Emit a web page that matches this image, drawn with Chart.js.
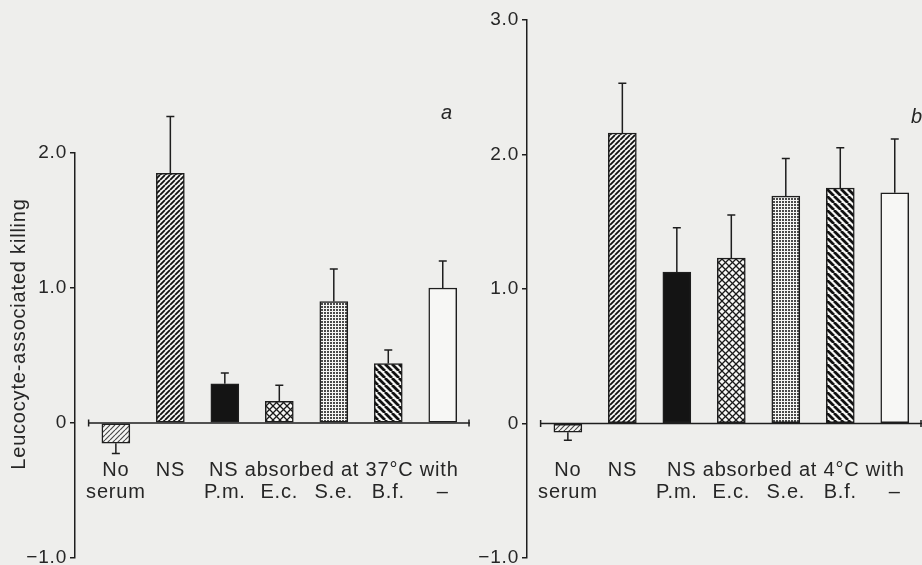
<!DOCTYPE html>
<html>
<head>
<meta charset="utf-8">
<script src="https://cdn.jsdelivr.net/npm/chart.js@4.4.0/dist/chart.umd.min.js"></script>
<style>
    body { margin: 0; background: #eeeeec; }
    #wrap { position: relative; width: 922px; height: 565px; overflow: hidden; }
    #chart37 { position: absolute; left: 0; top: 0; }
    #chart4 { position: absolute; left: 470px; top: 0; }
</style>
</head>
<body>
<div id="wrap">
    <canvas id="chart37" width="472" height="565"></canvas>
    <canvas id="chart4" width="452" height="565"></canvas>
</div>
<script>
// Etichette delle categorie (due righe; la didascalia sta sotto la barra centrale)
const labelsTop37 = ["No", "NS", "", "", "NS absorbed at 37°C with", "", ""];
const labelsTop4 = ["No", "NS", "", "", "NS absorbed at 4°C with", "", ""];
const labelsBottom = ["serum", "", "P.m.", "E.c.", "S.e.", "B.f.", "–"];

// Valori: media e errore
const killing37 = [-0.15, 1.85, 0.29, 0.16, 0.90, 0.44, 1.00];
const error37 = [0.075, 0.42, 0.08, 0.12, 0.24, 0.10, 0.20];
const killing4 = [-0.065, 2.16, 1.125, 1.23, 1.69, 1.75, 1.715];
const error4 = [0.06, 0.37, 0.33, 0.32, 0.28, 0.30, 0.40];

// Tacche asse y
const yTicks37 = [-1, 0, 1, 2];
const yTickLabels37 = ["−1.0", "0", "1.0", "2.0"];
const yTicks4 = [-1, 0, 1, 2, 3];
const yTickLabels4 = ["−1.0", "0", "1.0", "2.0", "3.0"];

const FONT = "'Liberation Sans', Arial, sans-serif";
const INK = "#1e1e1e";
const TEXT = "#262626";

// Crea un riempimento a tratteggio per le barre
function makePattern(kind) {
    const sizes = { light: 5, fine: 5, cross: 7, dots: 3, bold: 7 };
    const s = sizes[kind] || 4;
    const c = document.createElement("canvas");
    c.width = s;
    c.height = s;
    const g = c.getContext("2d");
    g.fillStyle = "#f6f6f4";
    g.fillRect(0, 0, s, s);

    function slash(up) {
        g.beginPath();
        for (let k = -1; k <= 1; k++) {
            if (up) {
                g.moveTo(k * s, s);
                g.lineTo(k * s + s, 0);
            } else {
                g.moveTo(k * s, 0);
                g.lineTo(k * s + s, s);
            }
        }
        g.stroke();
    }

    if (kind === "light") {
        g.strokeStyle = "#4a4a4a";
        g.lineWidth = 1.2;
        slash(true);
    } else if (kind === "fine") {
        g.strokeStyle = "#111";
        g.lineWidth = 1.8;
        slash(true);
    } else if (kind === "cross") {
        g.strokeStyle = "#1a1a1a";
        g.lineWidth = 1.3;
        slash(true);
        slash(false);
    } else if (kind === "dots") {
        g.fillStyle = "#4a4a4a";
        g.fillRect(0, 0, 2, 2);
    } else if (kind === "bold") {
        g.strokeStyle = "#111";
        g.lineWidth = 2.8;
        slash(false);
    }
    return g.createPattern(c, "repeat");
}

const barFills = [
    makePattern("light"),
    makePattern("fine"),
    "#141414",
    makePattern("cross"),
    makePattern("dots"),
    makePattern("bold"),
    "#f7f7f5"
];

// Linea dello zero, barre di errore, titolo e lettera del pannello
function panelDecor(opts) {
    return {
        id: "panelDecor",
        beforeDraw(chart) {
            chart.ctx.letterSpacing = "0.8px";
        },
        afterDatasetsDraw(chart) {
            const ctx = chart.ctx;
            const xs = chart.scales.x;
            const ys = chart.scales.y;
            const y0 = ys.getPixelForValue(0);
            ctx.save();
            ctx.strokeStyle = INK;
            ctx.lineWidth = 1.5;

            // linea dello zero con terminali
            const xa = xs.getPixelForValue(0.5);
            const xb = xs.getPixelForValue(7.5);
            ctx.beginPath();
            ctx.moveTo(xa, y0);
            ctx.lineTo(xb, y0);
            ctx.moveTo(xa, y0 - 3.5);
            ctx.lineTo(xa, y0 + 3.5);
            ctx.moveTo(xb - 1, y0 - 3.5);
            ctx.lineTo(xb - 1, y0 + 3.5);
            ctx.stroke();

            // barre di errore
            const meta = chart.getDatasetMeta(0);
            meta.data.forEach((bar, i) => {
                const v = opts.values[i];
                const tip = v < 0 ? v - opts.errors[i] : v + opts.errors[i];
                const yEnd = ys.getPixelForValue(tip);
                ctx.beginPath();
                ctx.moveTo(bar.x, bar.y);
                ctx.lineTo(bar.x, yEnd);
                ctx.moveTo(bar.x - 4, yEnd);
                ctx.lineTo(bar.x + 4, yEnd);
                ctx.stroke();
            });

            ctx.fillStyle = TEXT;
            ctx.font = "italic 20px " + FONT;
            ctx.textAlign = "center";
            ctx.textBaseline = "middle";
            ctx.fillText(opts.letter, 447, opts.letterY);

            if (opts.title) {
                ctx.translate(19, 334);
                ctx.rotate(-Math.PI / 2);
                ctx.font = "20px " + FONT;
                ctx.fillText(opts.title, 0, 0);
            }
            ctx.restore();
        }
    };
}

function buildChart(canvasId, opts) {
    const ctx = document.getElementById(canvasId).getContext("2d");

    return new Chart(ctx, {
        type: "bar",
        data: {
            datasets: [{
                data: opts.values.map((v, i) => ({ x: i + 1, y: v })),
                backgroundColor: barFills,
                borderColor: INK,
                borderWidth: 1.5,
                borderSkipped: false,
                barThickness: 28
            }]
        },
        options: {
            responsive: false,
            animation: false,
            events: [],
            layout: { padding: { top: opts.padTop, bottom: 7, left: 0, right: opts.padRight } },
            plugins: {
                legend: { display: false },
                tooltip: { enabled: false }
            },
            scales: {
                x: {
                    type: "linear",
                    min: 0.25,
                    max: 7.5,
                    offset: false,
                    position: { y: 0 },
                    grid: { display: false, drawTicks: false },
                    border: { display: false },
                    afterBuildTicks: axis => {
                        axis.ticks = opts.values.map((v, i) => ({ value: i + 1 }));
                    },
                    afterFit: axis => {
                        axis.paddingLeft = 0;
                        axis.paddingRight = 0;
                    },
                    ticks: {
                        autoSkip: false,
                        maxRotation: 0,
                        padding: 36,
                        color: TEXT,
                        font: { family: FONT, size: 20, lineHeight: 1.1 },
                        callback: value => [opts.top[value - 1], labelsBottom[value - 1]]
                    }
                },
                y: {
                    min: -1,
                    max: opts.yMax,
                    afterBuildTicks: axis => {
                        axis.ticks = opts.yTicks.map(v => ({ value: v }));
                    },
                    afterFit: axis => {
                        axis.width = opts.axisWidth;
                        axis.paddingTop = 0;
                        axis.paddingBottom = 0;
                    },
                    grid: { drawOnChartArea: false, tickLength: 5, color: INK, lineWidth: 1.5 },
                    border: { color: INK, width: 1.5 },
                    ticks: {
                        padding: 3,
                        color: TEXT,
                        font: { family: FONT, size: 19 },
                        callback: value => opts.yLabels[opts.yTicks.indexOf(value)]
                    }
                }
            }
        },
        plugins: [panelDecor(opts)]
    });
}

buildChart("chart37", {
    values: killing37, errors: error37, top: labelsTop37,
    yMax: 2, yTicks: yTicks37, yLabels: yTickLabels37,
    axisWidth: 75, padTop: 153, padRight: 2,
    letter: "a", letterY: 113, title: "Leucocyte-associated killing"
});

buildChart("chart4", {
    values: killing4, errors: error4, top: labelsTop4,
    yMax: 3, yTicks: yTicks4, yLabels: yTickLabels4,
    axisWidth: 57, padTop: 20, padRight: 0,
    letter: "b", letterY: 117, title: null
});
</script>
</body>
</html>
